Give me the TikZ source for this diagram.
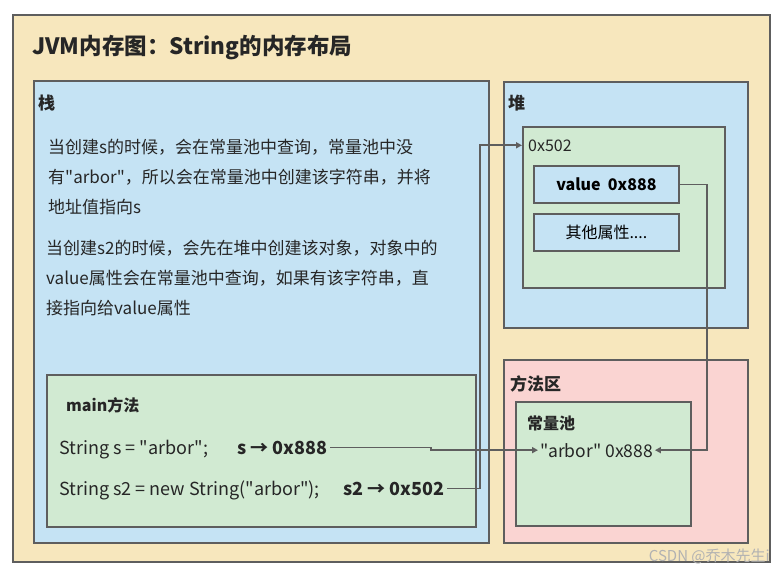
\documentclass[tikz,border=0pt]{standalone}
\usepackage{fontspec}
\newfontfamily\jvmfont{Noto Sans CJK SC}
\usetikzlibrary{arrows.meta}
\definecolor{jvmcream}{HTML}{F7E7BD}
\definecolor{jvmblue}{HTML}{C5E3F4}
\definecolor{jvmgreen}{HTML}{D1EAD2}
\definecolor{jvmpink}{HTML}{FAD4D2}
\definecolor{jvmline}{HTML}{5E5E5E}

\begin{document}
\jvmfont
\begin{tikzpicture}[x=1pt,y=-1pt,
  area/.style={draw=jvmline,line width=1.8pt,inner sep=0pt,anchor=north west},
  head/.style={font=\fontsize{#1}{#1}\selectfont\bfseries,text=black!85,anchor=base west,inner sep=0pt},
  txt/.style={font=\fontsize{#1}{#1}\selectfont,text=black!85,anchor=base west,inner sep=0pt},
  para/.style={font=\fontsize{17}{30}\selectfont,text=black!85,align=left,anchor=north west,inner sep=0pt},
  link/.style={draw=jvmline,line width=1.8pt,-{Triangle[length=6pt,width=6pt]}}]
\useasboundingbox (0,0) rectangle (783,575);
\node[area,fill=jvmcream,minimum width=757pt,minimum height=547pt] (jvm) at (12,14) {};
\node[head=22.5] (title) at (32,55) {JVM内存图：String的内存布局};

\node[area,fill=jvmblue,minimum width=455pt,minimum height=462pt] (stack) at (33,80) {};
\node[head=17] (stacklabel) at (38,110) {栈};
\node[para] (note1) at (48,139) {当创建s的时候，会在常量池中查询，常量池中没\\有"arbor"，所以会在常量池中创建该字符串，并将\\地址值指向s};
\node[para] (note2) at (46,240) {当创建s2的时候，会先在堆中创建该对象，对象中的\\value属性会在常量池中查询，如果有该字符串，直\\接指向给value属性};

\node[area,fill=jvmgreen,minimum width=429pt,minimum height=152pt] (mainbox) at (46,374) {};
\node[head=16] (mainlabel) at (66,411) {main方法};
\node[txt=18] (code1) at (59,454) {String s = "arbor";};
\node[head=18,outer sep=3pt] (ref1) at (234,454) {s → 0x888};
\node[txt=18] (code2) at (59,495) {String s2 = new String("arbor");};
\node[head=18,outer sep=3pt] (ref2) at (340,495) {s2 → 0x502};

\node[area,fill=jvmblue,minimum width=244pt,minimum height=246pt] (heap) at (503,81) {};
\node[head=17] (heaplabel) at (508,110) {堆};
\node[area,fill=jvmgreen,minimum width=202pt,minimum height=161pt] (obj) at (522,126) {};
\node[txt=16] (addr) at (528,151) {0x502};
\node[area,fill=jvmblue,minimum width=145pt,minimum height=37pt,font=\fontsize{16}{16}\selectfont\bfseries] (value) at (533,165) {value\ \ 0x888};
\node[area,fill=jvmblue,minimum width=145pt,minimum height=37pt,font=\fontsize{16}{16}\selectfont] (other) at (533,213) {其他属性....};

\node[area,fill=jvmpink,minimum width=244pt,minimum height=183pt] (method) at (503,359) {};
\node[head=17] (methodlabel) at (510,390) {方法区};
\node[area,fill=jvmgreen,minimum width=175pt,minimum height=124pt] (pool) at (515,401) {};
\node[head=16] (poollabel) at (527,429) {常量池};
\node[txt=17.5,outer sep=2pt] (arbor) at (538,457) {"arbor" 0x888};

\draw[link] (ref1.east) -- ++(101,0) |- (arbor.west);
\draw[link] (ref2.east) -- ++(33,0) |- (obj.west |- addr.west);
\draw[link] (value.east) -- ++(27,0) |- (arbor.east);

\node[txt=15,text=black!30,anchor=base east] (mark) at (770,561) {CSDN @乔木先生i};
\end{tikzpicture}
\end{document}
